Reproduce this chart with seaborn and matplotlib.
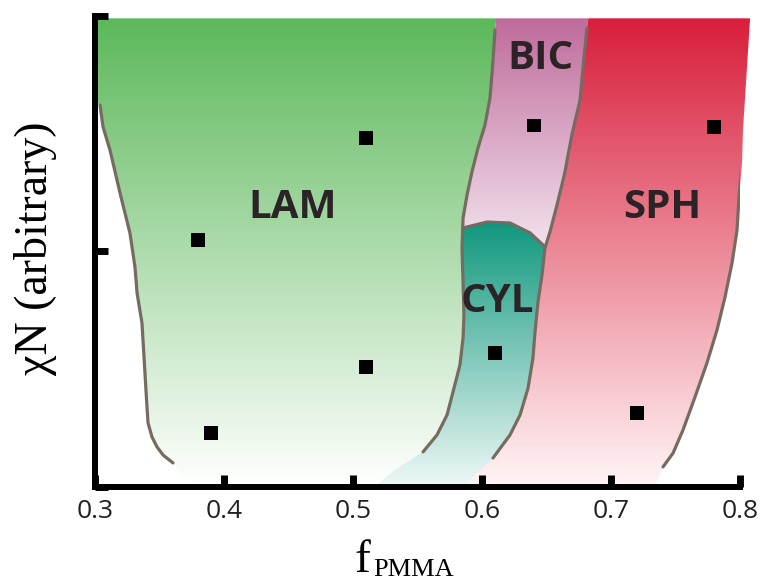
import numpy as np
import matplotlib
matplotlib.use('Agg')
import matplotlib.pyplot as plt
from matplotlib.patches import Polygon
from matplotlib.colors import LinearSegmentedColormap
import seaborn as sns

# ── Axes / ticks ──────────────────────────────────────────
x_ticks       = [0.3, 0.4, 0.5, 0.6, 0.7, 0.8]
x_tick_labels = ['0.3', '0.4', '0.5', '0.6', '0.7', '0.8']
y_ticks       = [0, 1, 2]

# ── Samples (f_PMMA, chiN arbitrary) ─────────────────────
sample_f  = [0.51, 0.38, 0.64, 0.78, 0.51, 0.39, 0.61, 0.72]
sample_xn = [1.48, 1.05, 1.535, 1.53, 0.51, 0.23, 0.57, 0.315]

# ── Phase labels ──────────────────────────────────────────
phase_names   = ['LAM', 'BIC', 'CYL', 'SPH']
phase_label_x = [0.4535, 0.645, 0.6116, 0.740]
phase_label_y = [1.186, 1.818, 0.788, 1.186]

# ── Phase boundaries ──────────────────────────────────────
TOP = 1.99
lam_left_x = [0.3039, 0.3062, 0.3116, 0.3194, 0.3271, 0.3310, 0.3326, 0.3364,
              0.3380, 0.3395, 0.3403, 0.3411, 0.3442, 0.3481, 0.3527, 0.3605]
lam_left_y = [1.622, 1.529, 1.431, 1.248, 1.078, 0.934, 0.824, 0.696,
              0.552, 0.412, 0.340, 0.272, 0.212, 0.170, 0.136, 0.102]

mid_left_x = [0.6101, 0.6083, 0.6062, 0.6023, 0.5969, 0.5922, 0.5884, 0.5853, 0.5845,
              0.5853, 0.5860, 0.5853, 0.5829, 0.5775, 0.5729, 0.5651, 0.5543]
mid_left_y = [1.941, 1.792, 1.652, 1.537, 1.440, 1.338, 1.240, 1.142, 1.015,
              0.870, 0.730, 0.633, 0.518, 0.403, 0.306, 0.221, 0.149]
mid_left_ext_x = [0.5326, 0.517]
mid_left_ext_y = [0.072, 0.0]

mid_right_x = [0.6814, 0.6783, 0.6760, 0.6698, 0.6640, 0.6581, 0.6527, 0.6488, 0.6465,
               0.6434, 0.6411, 0.6395, 0.6357, 0.6295, 0.6217, 0.6085]
mid_right_y = [1.949, 1.783, 1.643, 1.499, 1.330, 1.197, 1.083, 1.015, 0.900,
               0.786, 0.658, 0.548, 0.420, 0.306, 0.221, 0.123]
mid_right_ext_x = [0.5969, 0.5845]
mid_right_ext_y = [0.064, 0.0]

sph_right_x = [0.8039, 0.8023, 0.8016, 0.7992, 0.7977, 0.7938, 0.7884, 0.7822,
               0.7744, 0.7651, 0.7558, 0.7481, 0.7403]
sph_right_y = [1.652, 1.516, 1.376, 1.231, 1.091, 0.951, 0.807, 0.667,
               0.527, 0.382, 0.242, 0.144, 0.085]
sph_right_ext_x = [0.734]
sph_right_ext_y = [0.0]

dome_x = [0.5853, 0.6039, 0.6217, 0.6372, 0.6488]
dome_y = [1.100, 1.125, 1.121, 1.079, 1.020]

top_x = [0.3, 0.611, 0.6825, 0.8078]   # fill edges along the top

LINE_COLOR = '#766b60'

# ── Figure ────────────────────────────────────────────────
sns.set_style('ticks')
plt.rcParams['font.family'] = ['Open Sans', 'DejaVu Sans']

fig = plt.figure(figsize=(7.6, 5.83), dpi=100)
ax = fig.add_axes([0.125, 0.1647, 0.8487, 0.8079])


def gradient_fill(px, py, c_top, c_bot, y_top, y_bot, z=1):
    cmap = LinearSegmentedColormap.from_list('g', [c_bot, c_top])
    yy = np.linspace(0, 2, 400)
    grad = np.clip((yy - y_bot) / (y_top - y_bot), 0, 1).reshape(-1, 1)
    im = ax.imshow(grad, cmap=cmap, origin='lower', aspect='auto',
                   extent=[min(px) - 0.01, max(px) + 0.01, 0, 2],
                   vmin=0, vmax=1, zorder=z, interpolation='bilinear')
    patch = Polygon(np.column_stack([px, py]), closed=True,
                    transform=ax.transData, facecolor='none', edgecolor='none')
    im.set_clip_path(patch)
    im.set_clip_box(fig.bbox)


# LAM
lam_px = [top_x[0], top_x[1]] + mid_left_x + mid_left_ext_x + [0.375] + lam_left_x[::-1] + [0.3]
lam_py = [TOP, TOP] + mid_left_y + mid_left_ext_y + [0.0] + lam_left_y[::-1] + [1.64]
gradient_fill(lam_px, lam_py, '#5cb85a', '#ffffff', 2.0, 0.0)

# BIC
bic_px = [top_x[1], top_x[2]] + mid_right_x + mid_right_ext_x + mid_left_ext_x[::-1] + mid_left_x[::-1]
bic_py = [TOP, TOP] + mid_right_y + mid_right_ext_y + mid_left_ext_y[::-1] + mid_left_y[::-1]
gradient_fill(bic_px, bic_py, '#be6a9a', '#f4e4ee', 2.0, 1.0)

# CYL (drawn over the lower part of the BIC polygon)
mr = [(x, y) for x, y in zip(mid_right_x, mid_right_y) if y < dome_y[-1]]
ml = [(x, y) for x, y in zip(mid_left_x, mid_left_y) if y < dome_y[0]]
cyl_px = dome_x + [p[0] for p in mr] + mid_right_ext_x + mid_left_ext_x[::-1] + [p[0] for p in ml][::-1]
cyl_py = dome_y + [p[1] for p in mr] + mid_right_ext_y + mid_left_ext_y[::-1] + [p[1] for p in ml][::-1]
gradient_fill(cyl_px, cyl_py, '#11987e', '#eef8f6', 1.12, 0.0, z=1.2)

# SPH
sph_px = [top_x[2], top_x[3]] + sph_right_x + sph_right_ext_x + mid_right_ext_x[::-1] + mid_right_x[::-1]
sph_py = [TOP, TOP] + sph_right_y + sph_right_ext_y + mid_right_ext_y[::-1] + mid_right_y[::-1]
gradient_fill(sph_px, sph_py, '#d81d3a', '#fff5f6', 2.0, 0.0)

# boundary lines
for bx, by in [(lam_left_x, lam_left_y), (mid_left_x, mid_left_y),
               (mid_right_x, mid_right_y), (sph_right_x, sph_right_y),
               (dome_x, dome_y)]:
    sns.lineplot(x=bx, y=by, sort=False, estimator=None, color=LINE_COLOR,
                 lw=2.3, ax=ax, zorder=3, solid_capstyle='round',
                 solid_joinstyle='round')

# samples
sns.scatterplot(x=sample_f, y=sample_xn, marker='s', s=100, color='black',
                edgecolor='none', linewidth=0, ax=ax, zorder=4)

# phase names
for name, lx, ly in zip(phase_names, phase_label_x, phase_label_y):
    ax.text(lx, ly, name, ha='center', va='center', fontsize=29,
            fontweight='bold', color='#2b2325', zorder=5)

# axes styling
ax.set_xlim(0.3, 0.8)
ax.set_ylim(0, 2)
ax.set_xticks(x_ticks, x_tick_labels)
ax.set_yticks(y_ticks, [''] * len(y_ticks))
ax.set_xlabel('')
ax.set_ylabel('')
sns.despine(ax=ax)
for side in ['left', 'bottom']:
    ax.spines[side].set_linewidth(4.3)
    ax.spines[side].set_color('black')
    ax.spines[side].set_zorder(6)
ax.tick_params(axis='both', direction='in', length=9, width=5, color='black')
ax.tick_params(axis='x', labelsize=19, pad=9, labelcolor='#222222')
ax.set_axisbelow(False)

# axis titles
fig.text(0.047, 0.5746, 'χN (arbitrary)', rotation=90, ha='center', va='center',
         fontsize=33, family='Liberation Serif', color='black')
fig.text(0.467, 0.0185, 'f', ha='left', va='baseline', fontsize=34,
         family='Liberation Serif', color='black')
fig.text(0.491, 0.0120, 'PMMA', ha='left', va='baseline', fontsize=19,
         family='Liberation Serif', color='black')

fig.savefig('out.png', dpi=100)
